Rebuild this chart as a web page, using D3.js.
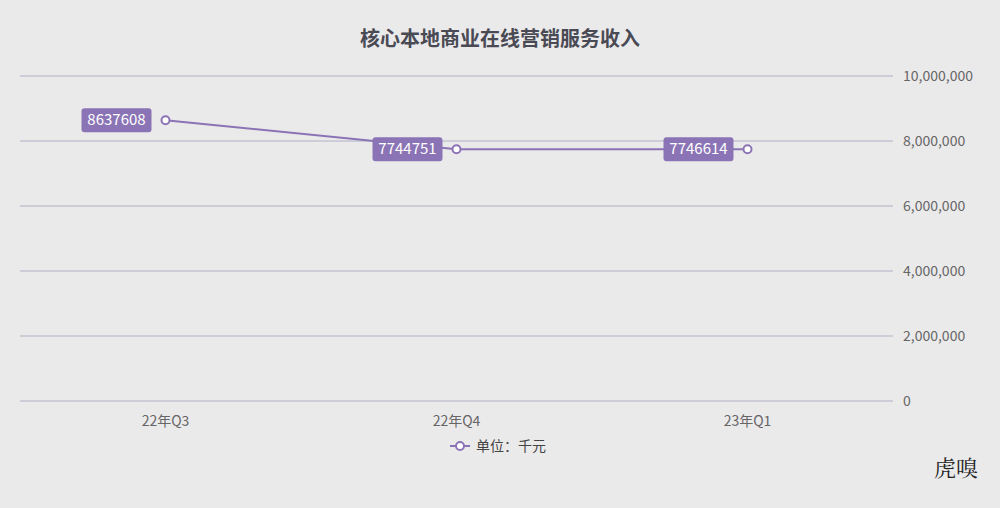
<!DOCTYPE html>
<html><head><meta charset="utf-8">
<script src="https://cdn.jsdelivr.net/npm/d3@7"></script>
<style>body{margin:0;background:#ebeaeb;font-family:"Noto Sans CJK SC","Noto Sans",sans-serif}</style>
</head><body>
<svg id="c" width="1000" height="508"></svg>
<script>
const categories = ["22年Q3", "22年Q4", "23年Q1"];
const values = [8637608, 7744751, 7746614];
const yTicks = [0, 2000000, 4000000, 6000000, 8000000, 10000000];
const color = "#8b74b5";

const svg = d3.select("#c");
svg.append("rect").attr("width", 1000).attr("height", 508).attr("fill", "#ebeaeb");

const x = d3.scaleBand().domain(categories).range([20, 893]);
const y = d3.scaleLinear().domain([0, 10000000]).range([401, 76]);

svg.append("text").attr("x", 500).attr("y", 46).attr("text-anchor", "middle")
    .attr("font-size", 20).attr("font-weight", "bold").attr("fill", "#4a4a55")
    .text("核心本地商业在线营销服务收入");

svg.selectAll(".grid").data(yTicks).enter().append("line")
    .attr("x1", 20).attr("x2", 893)
    .attr("y1", d => y(d)).attr("y2", d => y(d))
    .attr("stroke", "#aeb0c4").attr("stroke-width", 1);

svg.selectAll(".yl").data(yTicks).enter().append("text")
    .attr("x", 903).attr("y", d => y(d) + 5)
    .attr("font-size", 14).attr("fill", "#666")
    .text(d => d3.format(",")(d));

svg.selectAll(".xl").data(categories).enter().append("text")
    .attr("x", d => x(d) + x.bandwidth() / 2).attr("y", 426)
    .attr("text-anchor", "middle").attr("font-size", 14).attr("fill", "#666")
    .text(d => d);

const cx = (d, i) => x(categories[i]) + x.bandwidth() / 2;
const line = d3.line().x(cx).y(d => y(d));
svg.append("path").datum(values).attr("d", line)
    .attr("fill", "none").attr("stroke", color).attr("stroke-width", 2);

svg.selectAll(".pt").data(values).enter().append("circle")
    .attr("cx", cx).attr("cy", d => y(d)).attr("r", 4)
    .attr("fill", "#fff").attr("stroke", color).attr("stroke-width", 2);

const lab = svg.selectAll(".lab").data(values).enter().append("g")
    .attr("transform", (d, i) => `translate(${cx(d, i) - 12},${y(d)})`);
lab.append("rect").attr("x", -72).attr("y", -12).attr("width", 70).attr("height", 24)
    .attr("rx", 3).attr("fill", color);
lab.append("text").attr("x", -37).attr("y", 5).attr("text-anchor", "middle")
    .attr("font-size", 15).attr("fill", "#fff").text(d => d);

const lg = svg.append("g").attr("transform", "translate(460,446)");
lg.append("line").attr("x1", -10).attr("x2", 10).attr("stroke", color).attr("stroke-width", 2);
lg.append("circle").attr("r", 4).attr("fill", "#fff").attr("stroke", color).attr("stroke-width", 2);
lg.append("text").attr("x", 16).attr("y", 5).attr("font-size", 14).attr("fill", "#444").text("单位：千元");

svg.append("text").attr("x", 978).attr("y", 476).attr("text-anchor", "end")
    .attr("font-size", 22).attr("font-family", "Noto Serif CJK SC, serif").attr("fill", "#222").text("虎嗅");
</script>
</body></html>
